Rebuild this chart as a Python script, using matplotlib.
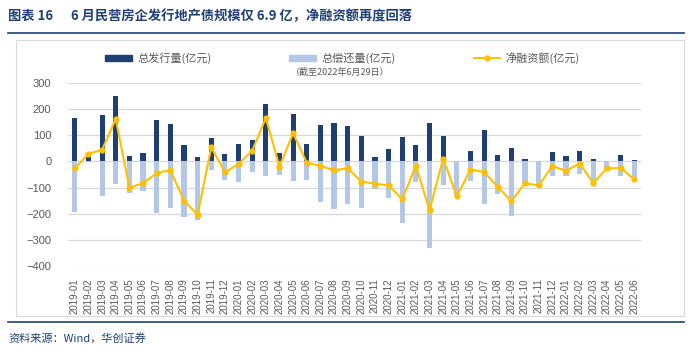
import matplotlib.pyplot as plt
import numpy as np
from matplotlib.lines import Line2D
from matplotlib.patches import Patch, Rectangle

plt.rcParams["font.family"] = ["Noto Sans CJK SC", "DejaVu Sans"]

months = [
    "2019-01", "2019-02", "2019-03", "2019-04", "2019-05", "2019-06",
    "2019-07", "2019-08", "2019-09", "2019-10", "2019-11", "2019-12",
    "2020-01", "2020-02", "2020-03", "2020-04", "2020-05", "2020-06",
    "2020-07", "2020-08", "2020-09", "2020-10", "2020-11", "2020-12",
    "2021-01", "2021-02", "2021-03", "2021-04", "2021-05", "2021-06",
    "2021-07", "2021-08", "2021-09", "2021-10", "2021-11", "2021-12",
    "2022-01", "2022-02", "2022-03", "2022-04", "2022-05", "2022-06",
]
issuance = [
    167, 31, 177, 249, 22, 32, 157, 145, 64, 18, 89, 29,
    68, 83, 218, 32, 181, 68, 139, 147, 136, 99, 18, 47,
    92, 62, 147, 98, 0, 40, 121, 23, 52, 10, 0, 36,
    20, 38, 10, 0, 26, 6.9,
]
repayment = [
    -195, -2, -134, -87, -121, -115, -199, -179, -214, -223, -34, -71,
    -77, -42, -54, -51, -75, -71, -157, -181, -162, -177, -105, -139,
    -236, -80, -333, -92, -134, -73, -161, -125, -207, -87, -98, -55,
    -55, -47, -93, -29, -54, -73,
]
net = [
    -27, 29, 45, 162, -101, -83, -45, -33, -150, -204, 54, -42,
    -10, 41, 166, -20, 108, -5, -17, -34, -26, -77, -85, -92,
    -144, -17, -186, 11, -134, -31, -40, -98, -152, -83, -92, -18,
    -36, -8, -83, -26, -26, -68,
]

navy = "#1F3F77"
dark_bar = "#1F3F73"
light_bar = "#B4C7E7"
line_col = "#FFC000"
tick_font = ["Liberation Sans", "DejaVu Sans"]

W, H = 692, 355
fig = plt.figure(figsize=(W / 100, H / 100), dpi=100)

# title and rules
fig.text(8 / W, 1 - 16 / H, "图表 16      6 月民营房企发行地产债规模仅 6.9 亿，净融资额再度回落",
         color=navy, fontsize=9.5, fontweight="bold", va="center", ha="left")
fig.add_artist(Line2D([8 / W, 684 / W], [1 - 33 / H, 1 - 33 / H], color=navy, lw=1.2))
fig.add_artist(Line2D([8 / W, 684 / W], [1 - 322 / H, 1 - 322 / H], color=navy, lw=1.2))
fig.add_artist(Rectangle((16 / W, 1 - 316 / H), 668 / W, 276 / H, fill=False,
                         edgecolor="#D9D9D9", lw=0.8))
fig.text(8 / W, 1 - 338 / H, "资料来源：Wind，华创证券", color=navy, fontsize=8,
         style="italic", va="center", ha="left")

ax = fig.add_axes([68 / W, 1 - 266 / H, 573 / W, 183 / H])
x = np.arange(len(months))
ax.bar(x, repayment, width=0.38, color=light_bar, zorder=2)
ax.bar(x, issuance, width=0.38, color=dark_bar, zorder=3)
ax.plot(x, net, color=line_col, lw=1.5, marker="o", ms=3.5, zorder=4)

ax.set_xlim(-0.5, len(months) - 0.5)
ax.set_ylim(-400, 300)
ax.set_yticks(np.arange(-400, 301, 100))
ax.yaxis.grid(True, color="#D9D9D9", lw=0.9, zorder=0)
ax.set_axisbelow(True)
for s in ax.spines.values():
    s.set_visible(False)
ax.tick_params(axis="y", length=0, labelsize=8, labelcolor="#595959", pad=12)
for t in ax.get_yticklabels():
    t.set_family(tick_font)
ax.set_xticks(x)
ax.set_xticklabels(months, rotation=90, fontsize=7, color="#595959", family=tick_font)
ax.tick_params(axis="x", length=0, pad=9)

handles = [
    Patch(color=dark_bar),
    Patch(color=light_bar),
    Line2D([], [], color=line_col, lw=1.5, marker="o", ms=3.5),
]
labels = ["总发行量(亿元)", "总偿还量(亿元)", "净融资额(亿元)"]
fig.legend(handles, labels, loc="center", bbox_to_anchor=(0.495, 1 - 58 / H), ncol=3,
           frameon=False, fontsize=8, labelcolor="#595959", columnspacing=7,
           handlelength=2.4, handleheight=0.55, handletextpad=0.5)
fig.text(340 / W, 1 - 72 / H, "（截至2022年6月29日）", fontsize=6.5, color="#595959",
         ha="center", va="center")

fig.savefig("out.png", dpi=100)
